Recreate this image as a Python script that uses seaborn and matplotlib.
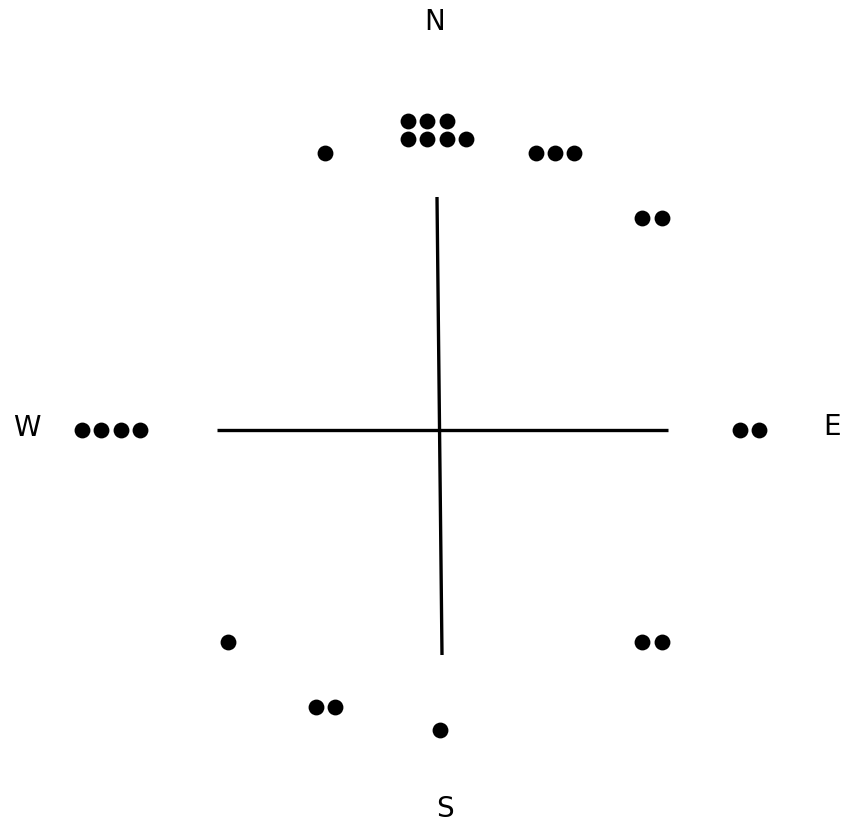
import numpy as np
import pandas as pd
import matplotlib
matplotlib.use("Agg")
import matplotlib.pyplot as plt
import seaborn as sns

# Data: compass bearing (degrees, clockwise from north) and number of observations
bearings = [0, 22.5, 45, 90, 135, 180, 202.5, 225, 270, 337.5]
counts = [7, 3, 2, 2, 2, 1, 2, 1, 4, 1]

# Compass labels
compass_labels = ["N", "E", "S", "W"]

sns.set_theme(style="white")
plt.rcParams["font.family"] = ["DejaVu Sans"]

# Layout constants
R = 300.0        # radius of the dot ring
STEP = 19.3      # spacing between stacked dots
ROW_STEP = 18.0  # spacing between rows
PER_ROW = 4
ARM = 228.0

rows = []
for b, n in zip(bearings, counts):
    th = np.radians(b)
    s, c = np.sin(th), np.cos(th)
    x0, y0 = R * s, R * c
    if abs(s) > 0.9:
        # on east-west axis: stack outward horizontally
        sgn = np.sign(s)
        for k in range(n):
            rows.append({"bearing": b, "x": x0 + sgn * k * STEP, "y": y0})
    else:
        width = min(n, PER_ROW)
        nrows = int(np.ceil(n / PER_ROW))
        xstart = x0 - (width - 1) / 2 * STEP - (3 if nrows > 1 else 0)
        for k in range(n):
            r_i, c_i = divmod(k, PER_ROW)
            rows.append({"bearing": b,
                         "x": xstart + c_i * STEP,
                         "y": y0 + np.sign(c) * (r_i - (nrows - 1) / 2) * ROW_STEP})
df = pd.DataFrame(rows)

fig = plt.figure(figsize=(8.47, 8.27), dpi=100)
ax = fig.add_axes([0, 0, 1, 1])
ax.set_xlim(-440, 407)
ax.set_ylim(-397, 430)

# cross
ax.plot([-ARM + 5, ARM], [0, 0], color="black", lw=2.4, solid_capstyle="butt")
ax.plot([-3, 2], [ARM + 5, -ARM + 3], color="black", lw=2.4, solid_capstyle="butt")

sns.scatterplot(data=df, x="x", y="y", color="black", s=130,
                edgecolor="black", linewidth=0, ax=ax, legend=False)

label_pos = {"N": (-5, 408), "E": (392, 3), "S": (5, -379), "W": (-413, 2)}
for lab in compass_labels:
    lx, ly = label_pos[lab]
    ax.text(lx, ly, lab, ha="center", va="center", fontsize=20, color="black")

ax.axis("off")
fig.savefig("out.png", dpi=100, facecolor="white")
